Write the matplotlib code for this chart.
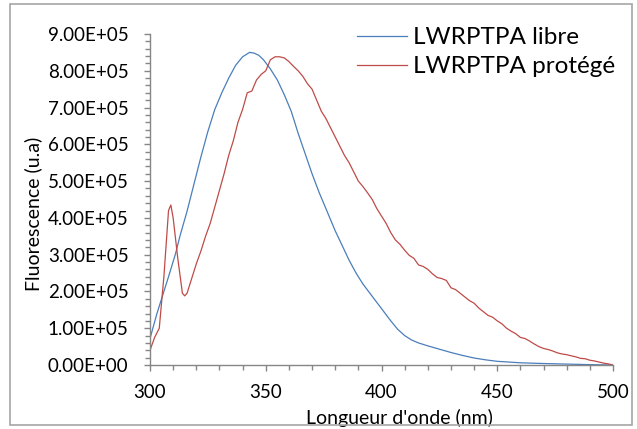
import matplotlib
matplotlib.use("Agg")
import matplotlib.pyplot as plt
from matplotlib.ticker import MultipleLocator, FuncFormatter
from matplotlib.patches import Rectangle

plt.rcParams['font.family'] = ['Lato', 'DejaVu Sans']

# LWRPTPA libre (blue)
wl_libre = [300, 303, 305, 308, 311, 313, 316, 319, 322, 325, 328, 331, 334, 337, 340,
            343, 345, 347, 349, 352, 355, 358, 361, 364, 367, 370, 373, 377, 380, 383,
            386, 389, 392, 395, 398, 401, 404, 407, 410, 413, 416, 420, 425, 430, 435,
            440, 445, 450, 455, 460, 470, 480, 490, 500]
fl_libre = [0.72, 1.40, 1.80, 2.40, 3.02, 3.52, 4.18, 4.92, 5.66, 6.35, 6.95, 7.40, 7.80, 8.15, 8.38,
            8.50, 8.48, 8.42, 8.30, 8.05, 7.75, 7.35, 6.90, 6.30, 5.75, 5.20, 4.70, 4.10, 3.65, 3.25,
            2.85, 2.50, 2.20, 1.95, 1.70, 1.45, 1.20, 0.97, 0.80, 0.68, 0.60, 0.52, 0.43, 0.34, 0.26,
            0.19, 0.14, 0.10, 0.08, 0.06, 0.04, 0.025, 0.01, 0.0]

# LWRPTPA protégé (red)
wl_protege = [300, 302, 304, 306, 308, 309, 310, 312, 314, 315, 316, 318, 320, 322, 324,
              326, 328, 330, 332, 334, 336, 338, 340, 342, 344, 346, 348, 350, 352, 354,
              356, 358, 360, 362, 364, 366, 368, 370, 372, 374, 376, 378, 380, 382, 384,
              386, 388, 390, 392, 394, 396, 398, 400, 402, 404, 406, 408, 410, 412, 414,
              416, 418, 420, 422, 424, 426, 428, 430, 432, 434, 436, 438, 440, 442, 444,
              446, 448, 450, 452, 454, 456, 458, 460, 462, 464, 466, 468, 470, 472, 474,
              476, 478, 480, 482, 484, 486, 488, 490, 492, 494, 496, 498, 500]
fl_protege = [0.40, 0.75, 1.00, 2.40, 4.20, 4.35, 4.00, 2.90, 1.95, 1.88, 1.95, 2.35, 2.75, 3.10, 3.50,
              3.85, 4.30, 4.75, 5.20, 5.70, 6.10, 6.60, 6.95, 7.40, 7.45, 7.75, 7.90, 8.00, 8.30, 8.38,
              8.38, 8.35, 8.25, 8.12, 8.00, 7.85, 7.65, 7.50, 7.20, 6.90, 6.70, 6.45, 6.20, 5.95, 5.70,
              5.50, 5.25, 5.00, 4.85, 4.68, 4.50, 4.25, 4.05, 3.85, 3.60, 3.40, 3.28, 3.12, 2.98, 2.90,
              2.72, 2.68, 2.60, 2.48, 2.38, 2.35, 2.30, 2.10, 2.05, 1.95, 1.85, 1.75, 1.68, 1.55, 1.45,
              1.35, 1.30, 1.20, 1.12, 1.00, 0.92, 0.85, 0.75, 0.72, 0.65, 0.57, 0.50, 0.45, 0.42, 0.38,
              0.33, 0.30, 0.28, 0.25, 0.22, 0.18, 0.17, 0.13, 0.11, 0.08, 0.05, 0.03, 0.00]

scale = 1e5
labels = ["LWRPTPA libre", "LWRPTPA protégé"]

W, H = 637, 429
fig = plt.figure(figsize=(W / 100, H / 100), dpi=100)
fig.patches.append(Rectangle((10 / W, 4 / H), 622 / W, 421 / H, transform=fig.transFigure,
                             fill=False, edgecolor='#a6a6a6', linewidth=1.2))

ax = fig.add_axes([150 / W, 1 - 365 / H, (613 - 150) / W, (365 - 34) / H])
ax.plot(wl_libre, [v * scale for v in fl_libre], color='#4a7ebb', lw=0.9, label=labels[0])
ax.plot(wl_protege, [v * scale for v in fl_protege], color='#be4b48', lw=0.9, label=labels[1])

ax.set_xlim(300, 500)
ax.set_ylim(0, 9e5)
ax.xaxis.set_major_locator(MultipleLocator(50))
ax.xaxis.set_minor_locator(MultipleLocator(10))
ax.yaxis.set_major_locator(MultipleLocator(1e5))
ax.yaxis.set_minor_locator(MultipleLocator(2e4))
ax.yaxis.set_major_formatter(FuncFormatter(lambda v, p: f"{v:.2E}"))

for s in ['top', 'right']:
    ax.spines[s].set_visible(False)
for s in ['left', 'bottom']:
    ax.spines[s].set_color('#868686')
    ax.spines[s].set_linewidth(1.0)
ax.tick_params(which='both', direction='out', color='#868686', width=1.0)
ax.tick_params(which='major', length=4.5, labelsize=13.5)
ax.tick_params(axis='y', which='major', pad=11)
ax.tick_params(axis='x', which='major', pad=9)
ax.tick_params(which='minor', length=3.5)

ax.set_xlabel("Longueur d'onde (nm)", fontsize=14)
ax.xaxis.set_label_coords((399 - 150) / (613 - 150), -(418 - 365) / (365 - 34))
ax.xaxis.label.set_va('center')
ax.set_ylabel("Fluorescence (u.a)", fontsize=14)
ax.yaxis.set_label_coords(-(150 - 33) / (613 - 150), (365 - 214) / (365 - 34))
ax.yaxis.label.set_va('center')

leg = ax.legend(loc='upper left', bbox_to_anchor=(357 / W, 1 - 27 / H),
                bbox_transform=fig.transFigure, frameon=False, fontsize=17.5,
                handlelength=2.05, handletextpad=0.25, labelspacing=0.33,
                borderpad=0, borderaxespad=0)

fig.savefig("out.png", dpi=100)
